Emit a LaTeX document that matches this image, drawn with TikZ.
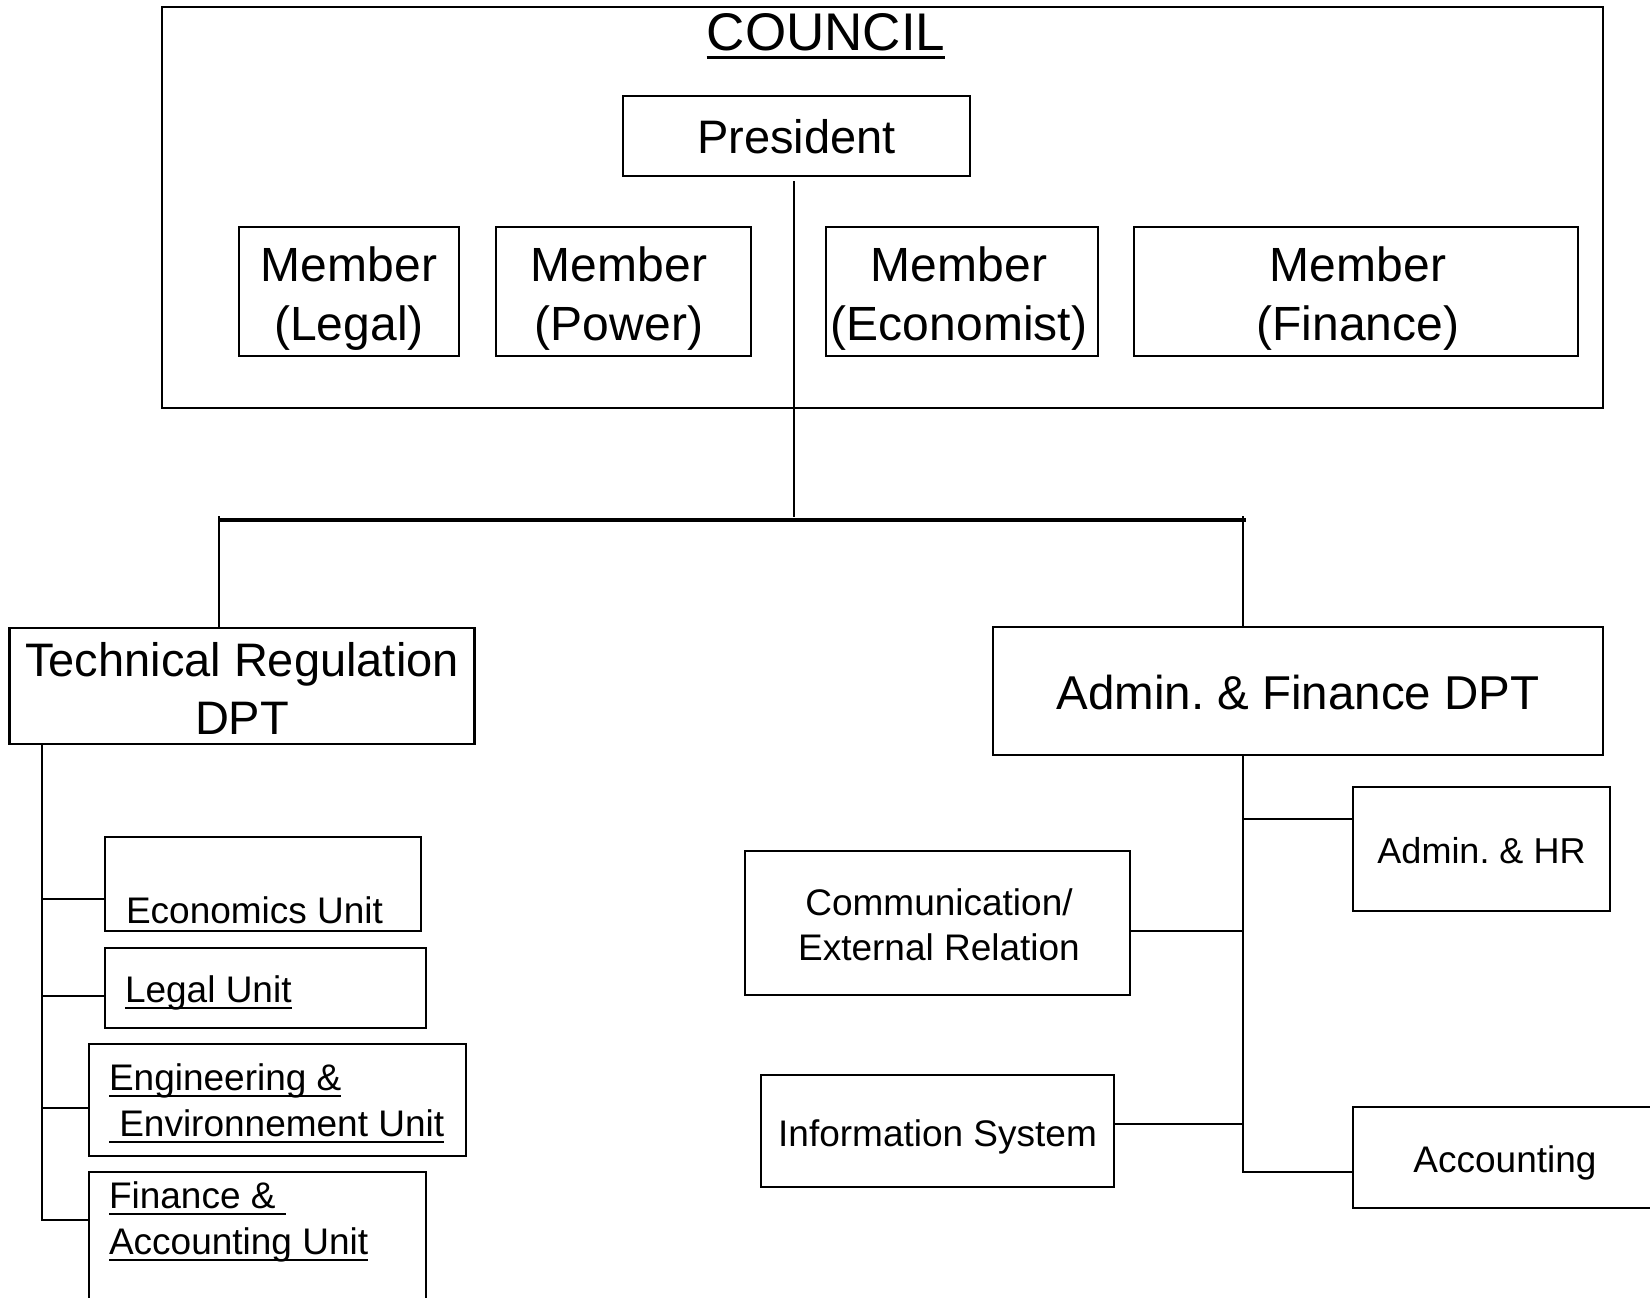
\documentclass[tikz,border=0pt]{standalone}
\usepackage{fontspec}
\setmainfont{Liberation Sans}
\frenchspacing
\newcommand{\fsz}[2]{\fontsize{#1}{#2}\selectfont}
\newcommand{\mlc}[1]{\begin{tabular}[t]{@{}c@{}}#1\end{tabular}}
\newcommand{\mll}[1]{\begin{tabular}[t]{@{}l@{}}#1\end{tabular}}
\newcommand{\myul}[1]{\leavevmode\setbox0=\hbox{#1}\rlap{\copy0}\rule[-7pt]{\wd0}{2.5pt}}
\newcommand{\myulc}[1]{\leavevmode\setbox0=\hbox{#1}\rlap{\copy0}\rule[-8.5pt]{\wd0}{3pt}}
\begin{document}
\begin{tikzpicture}[x=1pt,y=-1pt,
  box/.style={draw, line width=2.3pt, inner sep=0pt, outer sep=0pt},
  conn/.style={line width=2.5pt},
  bus/.style={line width=3.3pt},
  txt/.style={inner sep=0pt, outer sep=0pt, anchor=base},
  txtl/.style={inner sep=0pt, outer sep=0pt, anchor=base west},
  big/.style={font=\fsz{48}{59}},
  dpt/.style={font=\fsz{47}{58}},
  small/.style={font=\fsz{37}{46}}
]
\useasboundingbox (0,0) rectangle (1650,1298);
\clip (0,0) rectangle (1650,1298);

% boxes
\node[box, minimum width=1441pt, minimum height=401pt] (council) at (882.5,207.5) {};
\node[box, minimum width=347pt, minimum height=80pt] (pres) at (796.5,136) {};
\node[box, minimum width=220pt, minimum height=129pt] (mlegal) at (349,291.5) {};
\node[box, minimum width=255pt, minimum height=129pt] (mpower) at (623.5,291.5) {};
\node[box, minimum width=272pt, minimum height=129pt] (mecon) at (962,291.5) {};
\node[box, minimum width=444pt, minimum height=129pt] (mfin) at (1356,291.5) {};
\node[box, minimum width=465pt, minimum height=116pt] (tech) at (242,686) {};
\node[box, minimum width=610pt, minimum height=128pt] (admin) at (1298,691) {};
\node[box, minimum width=316pt, minimum height=94pt] (econ) at (263,884) {};
\node[box, minimum width=321pt, minimum height=80pt] (legal) at (265.5,988) {};
\node[box, minimum width=377pt, minimum height=112pt] (eng) at (277.5,1100) {};
\node[box, minimum width=337pt, minimum height=168pt] (finacc) at (257.5,1256) {};
\node[box, minimum width=257pt, minimum height=124pt] (adminhr) at (1481.5,849) {};
\node[box, minimum width=385pt, minimum height=144pt] (comm) at (937.5,923) {};
\node[box, minimum width=353pt, minimum height=112pt] (info) at (937.5,1131) {};
\node[box, minimum width=304pt, minimum height=101pt] (acct) at (1505,1157.5) {};

% texts
\node[txt, font=\fsz{53}{60}] (tcouncil) at (826,51) {\myulc{COUNCIL}};
\node[txt, font=\fsz{47}{58}] (tpres) at (796.5,153) {President};
\node[txt, big] (tmlegal) at (349,281) {\mlc{Member\\(Legal)}};
\node[txt, big] (tmpower) at (619,281) {\mlc{Member~\\(Power)}};
\node[txt, big] (tmecon) at (959,281) {\mlc{Member~\\(Economist)}};
\node[txt, big] (tmfin) at (1358,281) {\mlc{Member\\(Finance)}};
\node[txt, dpt] (ttech) at (242,676) {\mlc{Technical Regulation\\DPT}};
\node[txt, font=\fsz{47.5}{58}] (tadmin) at (1298,709) {Admin. \& Finance DPT};
\node[txtl, small] (tecon) at (126,923) {Economics Unit};
\node[txtl, small] (tlegal) at (125,1002) {\myul{Legal Unit}};
\node[txtl, small] (teng) at (109,1090) {\mll{\myul{Engineering \&}\\\myul{\ Environnement Unit}}};
\node[txtl, small] (tfin) at (109,1208) {\mll{\myul{Finance \&\ }\\\myul{Accounting Unit}}};
\node[txt, font=\fsz{37}{45}] (tcomm) at (939,915) {\mlc{Communication/\\External Relation}};
\node[txt, small] (tinfo) at (937.5,1146) {Information System};
\node[txt, font=\fsz{36}{44}] (thr) at (1481.5,863) {Admin. \& HR};
\node[txt, small] (tacct) at (1505,1172) {Accounting};

% connector coordinates
\coordinate (busM) at (794,517);
\coordinate (busL) at (219,520);
\coordinate (busR) at (1246,520);
\coordinate (jL) at (219,516);
\coordinate (jR) at (1243,516);
\coordinate (b1) at (42,899);
\coordinate (b2) at (42,996);
\coordinate (b3) at (42,1108);
\coordinate (b4) at (42,1220);
\coordinate (r1) at (1243,819);
\coordinate (r2) at (1243,931);
\coordinate (r3) at (1243,1124);
\coordinate (r4) at (1243,1172);

% top tree
\draw[conn] ([yshift=-5pt]pres.south -| busM) -- (busM);
\draw[bus] (busL) -- (busR);
\draw[conn] (jL) -- (jL |- tech.north);
\draw[conn] (jR) -- (jR |- admin.north);

% left spine
\draw[conn] (tech.south -| b1) -- (b4) -- (b4 -| finacc.west);
\draw[conn] (b1) -- (b1 -| econ.west);
\draw[conn] (b2) -- (b2 -| legal.west);
\draw[conn] (b3) -- (b3 -| eng.west);

% right spine
\draw[conn] (admin.south -| r1) -- (r4) -- (r4 -| acct.west);
\draw[conn] (r1) -- (r1 -| adminhr.west);
\draw[conn] (r2) -- (r2 -| comm.east);
\draw[conn] (r3) -- (r3 -| info.east);
\end{tikzpicture}
\end{document}
